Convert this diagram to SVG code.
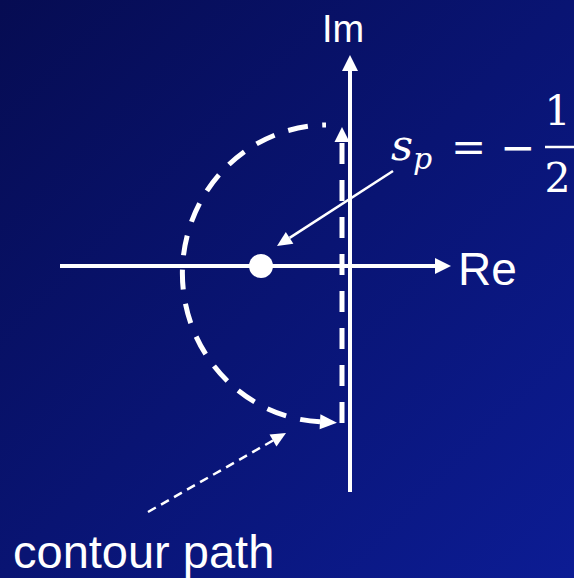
<svg xmlns="http://www.w3.org/2000/svg" width="574" height="578" viewBox="0 0 574 578">
  <defs>
    <linearGradient id="bg" x1="0" y1="0" x2="1" y2="1">
      <stop offset="0" stop-color="#060c52"/>
      <stop offset="0.5" stop-color="#091473"/>
      <stop offset="1" stop-color="#0c1c94"/>
    </linearGradient>
    <marker id="axisHead" markerUnits="userSpaceOnUse" orient="auto" refX="0" refY="0" markerWidth="20" markerHeight="20" overflow="visible">
      <path d="M0,-8 L16,0 L0,8 Z" fill="#fff"/>
    </marker>
    <marker id="dashHead" markerUnits="userSpaceOnUse" orient="auto" refX="0" refY="0" markerWidth="20" markerHeight="20" overflow="visible">
      <path d="M0,-7.5 L15,0 L0,7.5 Z" fill="#fff"/>
    </marker>
    <marker id="arcHead" markerUnits="userSpaceOnUse" orient="auto-start-reverse" refX="0" refY="0" markerWidth="20" markerHeight="20" overflow="visible">
      <path d="M0,-7.5 L17,0 L0,7.5 Z" fill="#fff"/>
    </marker>
    <marker id="thinHead" markerUnits="userSpaceOnUse" orient="auto" refX="0" refY="0" markerWidth="20" markerHeight="20" overflow="visible">
      <path d="M0,-7 L15,0 L0,7 Z" fill="#fff"/>
    </marker>
  </defs>
  <style>
    .axis { stroke: #fff; stroke-width: 4; fill: none; marker-end: url(#axisHead); }
    .thick-dash { stroke: #fff; stroke-width: 5; fill: none; }
    .thin { stroke: #fff; stroke-width: 2.5; fill: none; marker-end: url(#thinHead); }
    .label { fill: #fff; font-family: "Liberation Sans", Arial, sans-serif; }
    .math { fill: #fff; font-family: "DejaVu Serif", "Liberation Serif", serif; }
  </style>
  <rect id="background" x="0" y="0" width="574" height="578" fill="url(#bg)"/>

  <g id="connectors">
    <path id="re-axis" class="axis" d="M60,266 L435,266"/>
    <path id="im-axis" class="axis" d="M350,492 L350,71"/>
    <path id="contour-vertical" class="thick-dash" d="M342,423 L342,142" stroke-dasharray="21 16" marker-end="url(#dashHead)"/>
    <path id="contour-arc" class="thick-dash" d="M320,421.8 A145 148.5 0 0 1 326,125" pathLength="451" stroke-dasharray="20 14.4" marker-start="url(#arcHead)"/>
    <path id="sp-arrow" class="thin" d="M393,171 L289.6,237.9"/>
    <path id="contour-arrow" class="thin" d="M148,512 L273,440.5" stroke-dasharray="9 6"/>
  </g>

  <g id="pole">
    <circle cx="261" cy="266" r="12" fill="#fff"/>
  </g>

  <g id="label-im">
    <text class="label" x="322" y="42" font-size="38">Im</text>
  </g>
  <g id="label-re">
    <text class="label" x="458" y="285" font-size="46">Re</text>
  </g>
  <g id="label-contour">
    <text class="label" x="13" y="568" font-size="47">contour path</text>
  </g>
  <g id="label-sp">
    <text class="math" x="391" y="160" font-size="43" font-style="italic">s</text>
    <text class="math" x="413" y="169" font-size="30" font-style="italic">p</text>
    <text class="math" x="468.5" y="162" font-size="42" text-anchor="middle">=</text>
    <text class="math" x="517.5" y="162" font-size="42" text-anchor="middle">−</text>
    <text class="math" x="557.5" y="125" font-size="41" text-anchor="middle">1</text>
    <line x1="545" y1="147" x2="574" y2="147" stroke="#fff" stroke-width="2.5"/>
    <text class="math" x="557.5" y="192" font-size="41" text-anchor="middle">2</text>
  </g>
</svg>
